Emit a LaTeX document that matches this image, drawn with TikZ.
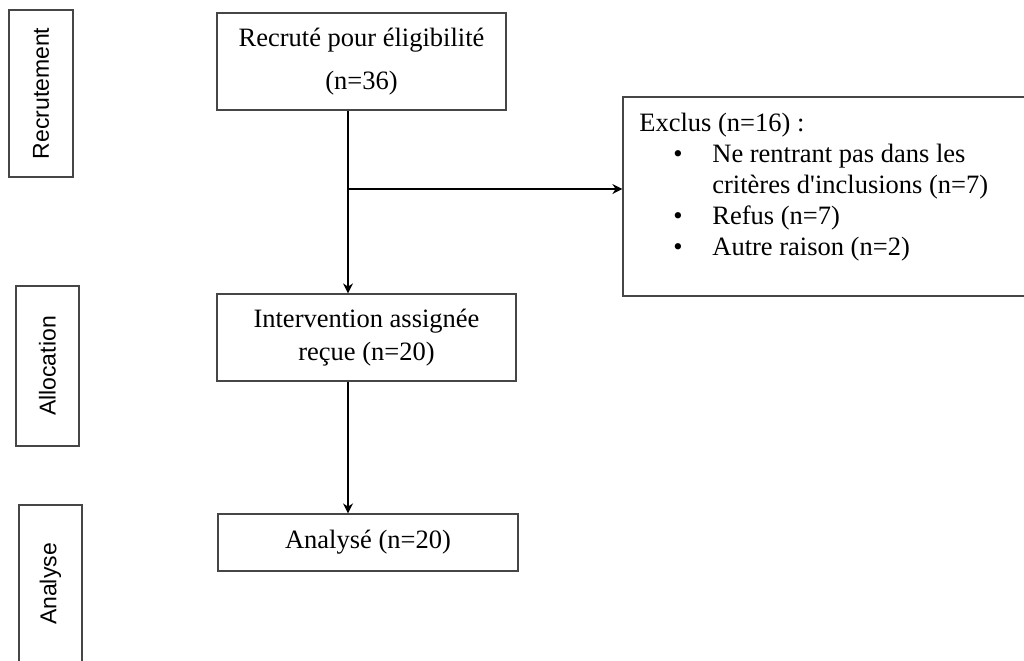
\documentclass[tikz,border=0pt]{standalone}
\usepackage{fontspec}
\setmainfont{Liberation Serif}
\newfontfamily\arialfont{Liberation Sans}
\usetikzlibrary{arrows.meta}
\definecolor{boxline}{RGB}{70,70,70}

\begin{document}
\begin{tikzpicture}[x=0.5pt,y=-0.5pt,
  box/.style={draw=boxline,line width=0.6pt,inner sep=0pt,align=center,
    font=\fontsize{13.25}{16.5}\selectfont},
  phase/.style={draw=boxline,line width=0.6pt,inner sep=0pt,rotate=90,
    font=\arialfont\fontsize{11.5}{13}\selectfont},
  arr/.style={line width=1pt,-{Stealth[length=5pt,width=5pt]}}]
\useasboundingbox (0,0) rectangle (1024,660);
% Phases on the left
\node[phase,minimum width=83.5pt,minimum height=32pt] (phrec) at (41,93.5) {Recrutement};
\node[phase,minimum width=80pt,minimum height=31.5pt] (phall) at (47.5,366) {Allocation};
\node[phase,minimum width=79pt,minimum height=31.5pt] (phana) at (50.5,584) {Analyse};
% Main boxes
\node[box,minimum width=144.5pt,minimum height=48.5pt,
  font=\fontsize{13.25}{21.5}\selectfont] (rec) at (361.5,61.5) {Recruté pour éligibilité\\(n=36)};
\node[box,minimum width=149.5pt,minimum height=43.5pt] (int) at (366.5,337.5) {Intervention assignée\\reçue (n=20)};
\node[box,minimum width=150pt,minimum height=28.5pt] (ana) at (368,542.5) {Analysé (n=20)};
% Exclusions
\node[box,minimum width=201.5pt,minimum height=99.5pt] (excl) at (824.5,196.5) {};
\node[anchor=north west,inner sep=0pt,align=left,
  font=\fontsize{13.25}{15.5}\selectfont] (excltxt) at (639,112.5)
  {Exclus (n=16) :\\
   \makebox[36.5pt][l]{\hspace{17pt}\textbullet}Ne rentrant pas dans les\\
   \hspace*{36.5pt}critères d\textquotesingle inclusions (n=7)\\
   \makebox[36.5pt][l]{\hspace{17pt}\textbullet}Refus (n=7)\\
   \makebox[36.5pt][l]{\hspace{17pt}\textbullet}Autre raison (n=2)};
% Connectors
\coordinate (trunk) at (348,0);
\coordinate (br) at (348,189);
\draw[arr] (trunk |- rec.south) -- (trunk |- int.north);
\draw[arr] (br) -- (br -| excl.west);
\draw[arr] (trunk |- int.south) -- (trunk |- ana.north);
\end{tikzpicture}
\end{document}
